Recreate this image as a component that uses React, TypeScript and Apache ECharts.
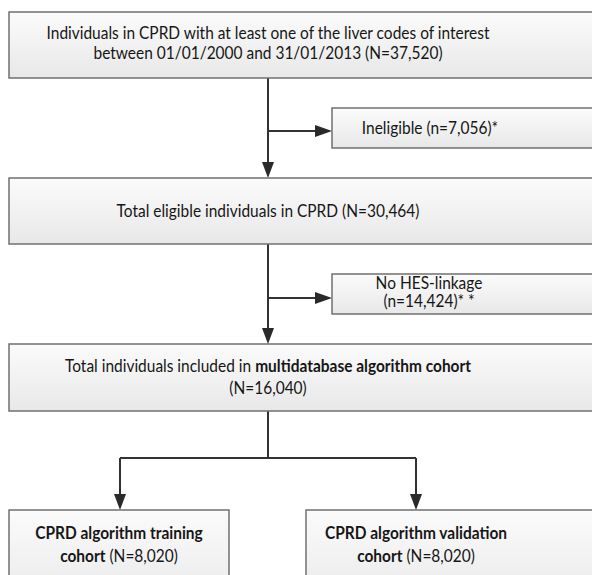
import React, { useEffect, useRef } from "react";
import * as echarts from "echarts";

const topBoxLines = [
  "Individuals in CPRD with at least one of the liver codes of interest",
  "between 01/01/2000 and 31/01/2013 (N=37,520)",
];
const exclusion1Lines = ["Ineligible (n=7,056)*"];
const eligibleLines = ["Total eligible individuals in CPRD (N=30,464)"];
const exclusion2Lines = ["No HES-linkage", "(n=14,424)* *"];
const cohortLines = [
  "Total individuals included in {b|multidatabase algorithm cohort}",
  "(N=16,040)",
];
const trainingLines = ["{b|CPRD algorithm training}", "{b|cohort} (N=8,020)"];
const validationLines = ["{b|CPRD algorithm validation}", "{b|cohort} (N=8,020)"];

const FONT = "Lato, 'Noto Sans', sans-serif";
const FS = 17;
const SX = 0.91;
const INK = "#161616";

export default function App() {
  const ref = useRef<HTMLDivElement>(null);
  useEffect(() => {
    if (!ref.current) return;
    const chart = echarts.init(ref.current, null, { renderer: "svg" });
    const grad = () =>
      new echarts.graphic.LinearGradient(0, 0, 0, 1, [
        { offset: 0, color: "#fbfbfb" },
        { offset: 1, color: "#e8e8e8" },
      ]);
    const box = (x: number, y: number, w: number, h: number) => ({
      type: "rect",
      shape: { x, y, width: w, height: h },
      style: { fill: grad(), stroke: "#707070", lineWidth: 1.5 },
    });
    const txt = (cx: number, cy: number, lines: string[], lh: number) => ({
      type: "text",
      x: cx,
      y: cy,
      scaleX: SX,
      style: {
        text: lines.join("\n"),
        font: `${FS}px ${FONT}`,
        fontSize: FS,
        fontFamily: FONT,
        fill: INK,
        align: "center",
        verticalAlign: "middle",
        textAlign: "center",
        textVerticalAlign: "middle",
        lineHeight: lh,
        rich: {
          b: { fontWeight: "bold", fontSize: FS, fontFamily: FONT, fill: INK, lineHeight: lh },
        },
      },
    });
    const line = (x1: number, y1: number, x2: number, y2: number) => ({
      type: "line",
      shape: { x1, y1, x2, y2 },
      style: { stroke: "#333", lineWidth: 2 },
    });
    const headDown = (x: number, y: number) => ({
      type: "polygon",
      shape: { points: [[x - 6, y - 16], [x + 6, y - 16], [x, y]] },
      style: { fill: "#2a2a2a" },
    });
    const headRight = (x: number, y: number) => ({
      type: "polygon",
      shape: { points: [[x - 17, y - 6], [x - 17, y + 6], [x, y]] },
      style: { fill: "#2a2a2a" },
    });
    const MX = 268;
    const elements: any[] = [
      line(MX, 78, MX, 164),
      line(MX, 131, 318, 131),
      headRight(332, 131),
      headDown(MX, 178),
      line(MX, 244, MX, 330),
      line(MX, 298, 318, 298),
      headRight(332, 298),
      headDown(MX, 344),
      line(MX, 411, MX, 458),
      line(120, 458, 416, 458),
      line(120, 458, 120, 496),
      line(416, 458, 416, 496),
      headDown(120, 510),
      headDown(416, 510),
      box(9, 12, 620, 66),
      txt(MX, 42.5, topBoxLines, 20),
      box(332, 108, 300, 40),
      txt(430, 127.5, exclusion1Lines, 20),
      box(9, 178, 620, 66),
      txt(MX, 210.5, eligibleLines, 20),
      box(332, 274, 300, 40),
      txt(429, 291.5, exclusion2Lines, 18),
      box(9, 344, 620, 67),
      txt(MX, 376.5, cohortLines, 22),
      box(9, 510, 220, 100),
      txt(119, 543.5, trainingLines, 23),
      box(306, 510, 320, 100),
      txt(416, 543.5, validationLines, 23),
    ];
    chart.setOption({
      animation: false,
      backgroundColor: "#ffffff",
      graphic: { elements },
    });
    return () => chart.dispose();
  }, []);
  return (
    <div
      ref={ref}
      style={{ position: "fixed", left: 0, top: 0, width: 592, height: 575 }}
    />
  );
}
